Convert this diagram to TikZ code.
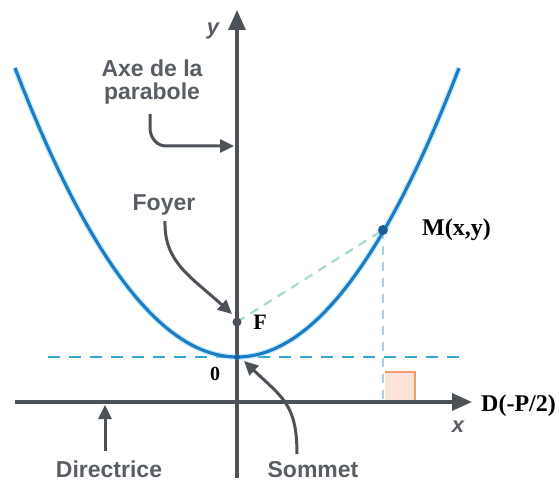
\documentclass[tikz,border=0pt]{standalone}
\usepackage{fontspec}
\setmainfont{Liberation Serif}
\setsansfont{Liberation Sans}
\usetikzlibrary{arrows.meta}
\definecolor{axisgray}{HTML}{4D5259}
\definecolor{labelgray}{HTML}{595E65}
\definecolor{parblue}{HTML}{1D7CC6}
\definecolor{parglow}{HTML}{9FDCF2}
\definecolor{dashcyan}{HTML}{35A6D8}
\definecolor{fmgreen}{HTML}{A6D9D0}
\definecolor{mvblue}{HTML}{A4D0E8}
\definecolor{ortfill}{HTML}{FCE4D8}
\definecolor{ortline}{HTML}{EE9E6E}
\definecolor{dotblue}{HTML}{1A5C9A}
\tikzset{
  axisline/.style={draw=axisgray, line width=3.2pt, -{Triangle[length=20pt,width=17pt]}},
  callout/.style={draw=axisgray, line width=3pt, -{Triangle[length=14pt,width=13pt]}},
  graylabel/.style={text=labelgray, font=\sffamily\bfseries\fontsize{23}{23}\selectfont, inner sep=0pt, align=center},
  seriflabel/.style={text=black, font=\rmfamily\bfseries\fontsize{24}{24}\selectfont, inner sep=0pt},
  axislabel/.style={text=labelgray, font=\sffamily\bfseries\itshape\fontsize{22}{22}\selectfont, inner sep=0pt},
}
\begin{document}
\begin{tikzpicture}[x=1pt,y=-1pt]
\useasboundingbox (0,0) rectangle (559,481);
% right angle mark
\fill[ortfill] (385,372) rectangle (415,402);
\draw[ortline, line width=1.8pt] (385,372) -- (415,372) -- (415,402);
% dashed horizontal line
\draw[dashcyan, line width=2.4pt, dash pattern=on 12pt off 9pt] (48,357) -- (462,357);
% points
\coordinate (O) at (237,357);
\coordinate (Fp) at (237,322);
\coordinate (Mp) at (383,230);
\coordinate (Mfoot) at (383,402);
% dashed construction lines
\draw[fmgreen, line width=2.2pt, dash pattern=on 9pt off 7pt] (Fp) -- (Mp);
\draw[mvblue, line width=2.2pt, dash pattern=on 9pt off 7pt] (Mp) -- (Mfoot);
% axes
\coordinate (xstart) at (15,402);
\coordinate (xend) at (472,402);
\coordinate (ystart) at (237,478);
\coordinate (yend) at (237,10);
\draw[axisline] (xstart) -- (xend);
\draw[axisline] (ystart) -- (yend);
% parabola
\draw[parglow, line width=6pt, opacity=0.5] plot[domain=-2.22:2.22, samples=120] ({237+100*\x},{357-58.64*\x*\x});
\draw[parblue, line width=3.2pt] plot[domain=-2.22:2.22, samples=120] ({237+100*\x},{357-58.64*\x*\x});
% dots
\fill[dotblue] (O) circle (3pt);
\fill[axisgray] (Fp) circle (4.5pt);
\fill[dotblue] (Mp) circle (5pt);
% labels
\node[axislabel, anchor=base] (ylab) at (213,35) {y};
\node[axislabel, anchor=base] (xlab) at (458,432) {x};
\node[graylabel, anchor=base] (axe) at (152,100) {Axe de la\\parabole};
\node[graylabel, anchor=base] (foyer) at (164,210) {Foyer};
\node[graylabel, anchor=base] (directrice) at (109,477) {Directrice};
\node[graylabel, anchor=base] (sommet) at (313,477) {Sommet};
\node[seriflabel, anchor=base west] (Mlab) at (422,235) {M(x,y)};
\node[seriflabel, anchor=base west] (Dlab) at (481,411) {D(-P/2)};
\node[seriflabel, anchor=base, font=\rmfamily\bfseries\fontsize{22}{22}\selectfont] (Flab) at (260,329) {F};
\node[seriflabel, anchor=base, font=\rmfamily\bfseries\fontsize{20}{20}\selectfont] (Olab) at (215,380) {0};
% callout arrows
\coordinate (axetip) at (234,146);
\coordinate (axefrom) at (150,114);
\coordinate (foyertip) at (232,314);
\coordinate (foyerfrom) at (165,221);
\coordinate (dirtip) at (105,405);
\coordinate (dirfrom) at (105,451);
\coordinate (somtip) at (244,361);
\coordinate (somfrom) at (297,454);
\draw[callout] (axefrom) -- (150,128) to[out=-90,in=180] (166,146) -- (axetip);
\draw[callout] (foyerfrom) .. controls (164,262) and (190,276) .. (foyertip);
\draw[callout] (dirfrom) -- (dirtip);
\draw[callout] (somfrom) .. controls (297,405) and (283,398) .. (somtip);
\end{tikzpicture}
\end{document}
